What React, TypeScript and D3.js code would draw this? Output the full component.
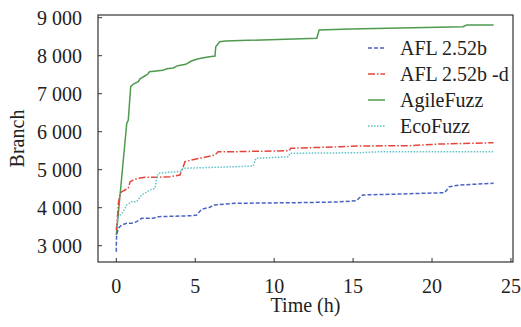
import React from "react";
import * as d3 from "d3";

type Pt = [number, number];

const aflHours = [0, 0, 0.02, 0.13, 0.34, 0.66, 0.97, 1.29, 1.6, 2.34, 2.66, 4.77, 5.09, 5.4, 5.93, 6.14, 7.5, 11.2, 13.95, 15.2, 15.6, 17.95, 20.8, 21.1, 21.75, 23.9];
const aflValues = [2840, 3018, 3282, 3458, 3545, 3589, 3589, 3632, 3721, 3721, 3763, 3789, 3808, 3958, 4010, 4071, 4116, 4131, 4150, 4184, 4334, 4360, 4395, 4553, 4597, 4642];

const afldHours = [0, 0.09, 0.13, 0.23, 0.34, 0.55, 0.76, 0.87, 1.08, 1.39, 1.82, 2.56, 3.4, 4.03, 4.24, 4.35, 4.77, 6.25, 6.46, 7.5, 10.95, 11.05, 14.27, 15.4, 18.6, 20.5, 22.6, 23.9];
const afldValues = [3413, 3853, 4116, 4334, 4421, 4466, 4511, 4684, 4729, 4774, 4800, 4800, 4816, 4860, 5079, 5211, 5255, 5387, 5474, 5474, 5500, 5563, 5605, 5624, 5632, 5676, 5695, 5711];

const agileHours = [0, 0.66, 0.76, 0.91, 1.08, 1.39, 1.5, 1.8, 2.0, 2.1, 2.95, 3.2, 3.6, 3.9, 4.4, 4.65, 4.8, 5.2, 5.8, 6.25, 6.3, 6.55, 6.9, 12.7, 12.85, 14.8, 21.96, 22.2, 23.9];
const agileValues = [3282, 6220, 6308, 7184, 7255, 7316, 7390, 7466, 7518, 7580, 7615, 7658, 7676, 7737, 7774, 7834, 7868, 7921, 7966, 7992, 8237, 8368, 8387, 8458, 8676, 8703, 8763, 8808, 8808];

const ecoHours = [0.02, 0.13, 0.44, 0.66, 0.97, 1.29, 1.6, 2.13, 2.45, 2.56, 2.66, 3.3, 4.03, 4.24, 7.5, 8.67, 8.84, 10.9, 11.0, 15.4, 16.7, 23.9];
const ecoValues = [3500, 3763, 3895, 4071, 4158, 4158, 4334, 4466, 4511, 4774, 4905, 4932, 4947, 5037, 5079, 5097, 5300, 5342, 5432, 5447, 5474, 5474];

const seriesNames = ["AFL 2.52b", "AFL 2.52b -d", "AgileFuzz", "EcoFuzz"];
const seriesColors = ["#4a62bf", "#e4463b", "#4f9a4f", "#5cc4c8"];
const seriesDash = ["4,2", "7,2,1.5,2", "", "1.5,1.5"];

const xTicks = [0, 5, 10, 15, 20, 25];
const yTicks = [3000, 4000, 5000, 6000, 7000, 8000, 9000];

const W = 521, H = 327;
const L = 98, R = 513, T = 15, B = 262;
const FONT = "'Liberation Serif', 'Times New Roman', serif";
const FS = 20;

function zip(h: number[], v: number[]): Pt[] {
  return h.map((x, i) => [x, v[i]] as Pt);
}

export default function App() {
  const x = d3.scaleLinear().domain([-1.16, 25.13]).range([L, R]);
  const y = d3.scaleLinear().domain([2571, 9071]).range([B, T]);
  const line = d3
    .line<Pt>()
    .x((d) => x(d[0]))
    .y((d) => y(d[1]));
  const data: Pt[][] = [
    zip(aflHours, aflValues),
    zip(afldHours, afldValues),
    zip(agileHours, agileValues),
    zip(ecoHours, ecoValues),
  ];
  const fmt = (v: number) => d3.format(",")(v).replace(",", " ");
  const drawOrder = [2, 1, 3, 0];
  return (
    <svg
      width={W}
      height={H}
      style={{ position: "absolute", left: 0, top: 0, background: "#fff" }}
      fontFamily={FONT}
    >
      <rect x={0} y={0} width={W} height={H} fill="#fff" />
      {drawOrder.map((i) => (
        <path
          key={i}
          d={line(data[i]) || ""}
          fill="none"
          stroke={seriesColors[i]}
          strokeWidth={1.5}
          strokeDasharray={seriesDash[i] || undefined}
        />
      ))}
      <rect x={L} y={T} width={R - L} height={B - T} fill="none" stroke="#333" strokeWidth={1.2} />
      {yTicks.map((t) => (
        <g key={t}>
          <line x1={L} x2={L + 4} y1={y(t)} y2={y(t)} stroke="#333" strokeWidth={1} />
          <text x={82} y={y(t)} dy="0.35em" textAnchor="end" fontSize={FS} fill="#222">
            {fmt(t)}
          </text>
        </g>
      ))}
      {xTicks.map((t) => (
        <g key={t}>
          <line x1={x(t)} x2={x(t)} y1={B} y2={B - 4} stroke="#333" strokeWidth={1} />
          <text x={x(t)} y={293} textAnchor="middle" fontSize={FS} fill="#222">
            {t}
          </text>
        </g>
      ))}
      <text x={(L + R) / 2} y={312} textAnchor="middle" fontSize={FS} fill="#222">
        Time (h)
      </text>
      <text
        transform={`translate(17, ${(T + B) / 2}) rotate(-90)`}
        dy="0.35em"
        textAnchor="middle"
        fontSize={FS}
        fill="#222"
      >
        Branch
      </text>
      {seriesNames.map((n, i) => {
        const cy = 48 + i * 26;
        return (
          <g key={n}>
            <line
              x1={368}
              x2={385}
              y1={cy}
              y2={cy}
              stroke={seriesColors[i]}
              strokeWidth={1.5}
              strokeDasharray={seriesDash[i] || undefined}
            />
            <text x={400} y={cy} dy="0.35em" fontSize={FS} fill="#222">
              {n}
            </text>
          </g>
        );
      })}
    </svg>
  );
}
